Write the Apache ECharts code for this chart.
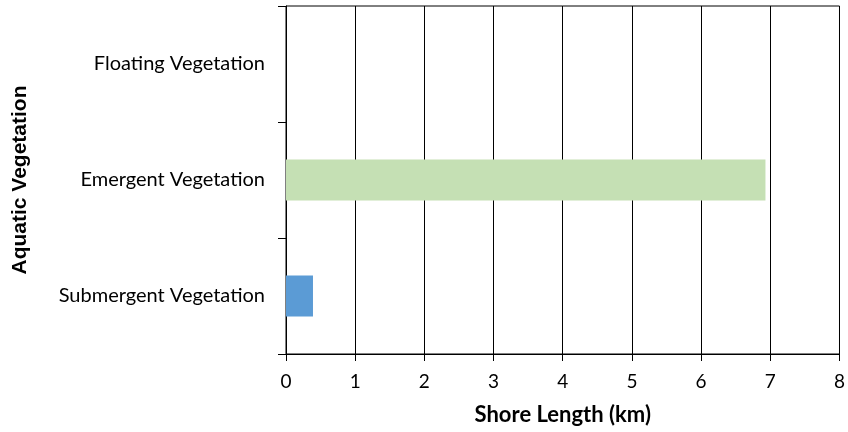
<!DOCTYPE html>
<html>
<head>
<meta charset="utf-8">
<script src="https://cdn.jsdelivr.net/npm/echarts@6/dist/echarts.min.js"></script>
<style>
  html, body { margin: 0; padding: 0; background: #fff; }
  #chart { width: 848px; height: 432px; }
</style>
</head>
<body>
<div id="chart"></div>
<script>
// Shore length covered by each aquatic vegetation type (km)
const categories = ['Submergent Vegetation', 'Emergent Vegetation', 'Floating Vegetation'];
const shoreLength = [0.39, 6.93, 0];
const barColors = ['#5B9BD5', '#C5E0B4', '#A5A5A5'];
const xTicks = [0, 1, 2, 3, 4, 5, 6, 7, 8];

const chart = echarts.init(document.getElementById('chart'), null, { renderer: 'canvas' });

chart.setOption({
  animation: false,
  backgroundColor: '#ffffff',
  grid: {
    left: 286, right: 7, top: 6, bottom: 78,
    show: true, borderColor: '#000', borderWidth: 1, backgroundColor: 'transparent'
  },
  xAxis: {
    type: 'value',
    min: xTicks[0],
    max: xTicks[xTicks.length - 1],
    interval: 1,
    name: 'Shore Length (km)',
    nameLocation: 'middle',
    nameGap: 50,
    nameTextStyle: { fontFamily: 'Lato', fontWeight: 'bold', fontSize: 22, color: '#000' },
    axisLine: { show: true, lineStyle: { color: '#000', width: 1 } },
    axisTick: { show: true, length: 7, lineStyle: { color: '#000' } },
    axisLabel: { margin: 18, fontFamily: 'Lato', fontSize: 19, color: '#000' },
    splitLine: { show: true, lineStyle: { color: '#000', width: 1 } }
  },
  yAxis: {
    type: 'category',
    data: categories,
    name: 'Aquatic Vegetation',
    nameLocation: 'middle',
    nameGap: 255,
    nameRotate: 90,
    nameTextStyle: { fontFamily: 'Liberation Sans', fontWeight: 'bold', fontSize: 21, color: '#000' },
    axisLine: { show: true, lineStyle: { color: '#000', width: 1 } },
    axisTick: { show: true, length: 8, lineStyle: { color: '#000' } },
    axisLabel: { margin: 21, fontFamily: 'Lato', fontSize: 20, color: '#000', padding: [2, 0, 0, 0] },
    splitLine: { show: false }
  },
  series: [{
    type: 'bar',
    data: shoreLength.map((v, i) => ({ value: v, itemStyle: { color: barColors[i] } })),
    barWidth: 41
  }]
});
</script>
</body>
</html>
